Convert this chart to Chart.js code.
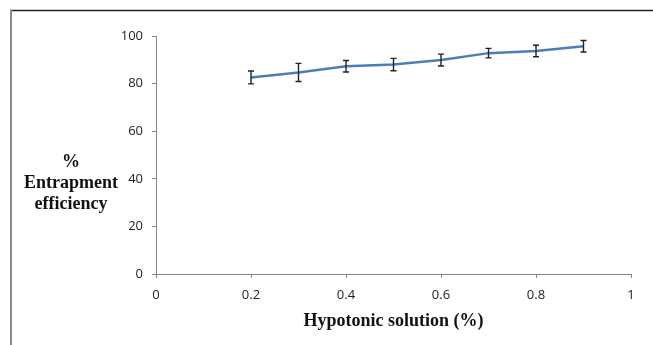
<!DOCTYPE html>
<html>
<head>
<meta charset="utf-8">
<script src="https://cdn.jsdelivr.net/npm/chart.js@4.4.0/dist/chart.umd.min.js"></script>
<style>
  body { margin: 0; background: #fff; }
  #wrap { position: relative; width: 653px; height: 345px; }
</style>
</head>
<body>
<div id="wrap"><canvas id="chart" width="653" height="345"></canvas></div>
<script>
// hypotonic solution concentration (%) vs entrapment efficiency (%)
const hypotonic = [0.2, 0.3, 0.4, 0.5, 0.6, 0.7, 0.8, 0.9];
const efficiency = [82.6, 84.7, 87.3, 88.0, 89.9, 92.8, 93.7, 95.7];
const errors = [2.7, 3.8, 2.4, 2.6, 2.5, 2.0, 2.4, 2.4];
const xTicks = [0, 0.2, 0.4, 0.6, 0.8, 1];
const yTicks = [0, 20, 40, 60, 80, 100];

const axisGray = '#868686';
const tickFont = { family: 'Open Sans', size: 13 };
const titleFont = { family: 'Liberation Serif', size: 18, weight: 'bold' };

// vertical error bars with short caps
const errorBars = {
  id: 'errorBars',
  afterDatasetsDraw(chart) {
    const { ctx, scales: { x, y } } = chart;
    ctx.save();
    ctx.strokeStyle = '#222';
    ctx.lineWidth = 1.4;
    hypotonic.forEach((v, i) => {
      const px = x.getPixelForValue(v);
      const top = y.getPixelForValue(efficiency[i] + errors[i]);
      const bot = y.getPixelForValue(efficiency[i] - errors[i]);
      ctx.beginPath();
      ctx.moveTo(px, top); ctx.lineTo(px, bot);
      ctx.moveTo(px - 3, top); ctx.lineTo(px + 3, top);
      ctx.moveTo(px - 3, bot); ctx.lineTo(px + 3, bot);
      ctx.stroke();
    });
    ctx.restore();
  }
};

// outer frame and the stacked horizontal y-axis title
const decor = {
  id: 'decor',
  beforeDraw(chart) {
    const ctx = chart.ctx;
    ctx.save();
    ctx.fillStyle = '#fff';
    ctx.fillRect(0, 0, chart.width, chart.height);
    ctx.strokeStyle = '#222';
    ctx.lineWidth = 1.5;
    ctx.beginPath();
    ctx.moveTo(10, 10.5); ctx.lineTo(chart.width, 10.5);
    ctx.stroke();
    ctx.strokeStyle = '#8a8a8a';
    ctx.lineWidth = 2;
    ctx.beginPath();
    ctx.moveTo(11, 10); ctx.lineTo(11, chart.height);
    ctx.stroke();
    ctx.restore();
  },
  afterDraw(chart) {
    const ctx = chart.ctx;
    ctx.save();
    ctx.fillStyle = '#111';
    ctx.font = 'bold 18px "Liberation Serif"';
    ctx.textAlign = 'center';
    ctx.textBaseline = 'middle';
    ['%', 'Entrapment', 'efficiency'].forEach((t, i) => {
      ctx.fillText(t, 71, 162 + i * 21);
    });
    ctx.restore();
  }
};

new Chart(document.getElementById('chart'), {
  type: 'line',
  data: {
    datasets: [{
      data: hypotonic.map((v, i) => ({ x: v, y: efficiency[i] })),
      borderColor: '#4a7ebb',
      borderWidth: 2.5,
      pointRadius: 0,
      tension: 0,
      fill: false,
    }],
  },
  options: {
    responsive: false,
    animation: false,
    layout: { padding: { left: 0, right: 22, top: 36, bottom: 0 } },
    plugins: { legend: { display: false }, tooltip: { enabled: false } },
    scales: {
      x: {
        type: 'linear',
        min: 0,
        max: 1,
        afterBuildTicks: (s) => { s.ticks = xTicks.map(v => ({ value: v })); },
        afterFit: (s) => { s.height = 71; },
        ticks: {
          font: tickFont,
          color: '#222',
          padding: 9,
          maxRotation: 0,
          callback: (v) => String(Number(v.toFixed(1))),
        },
        grid: { drawOnChartArea: false, tickLength: 4, tickColor: axisGray },
        border: { color: axisGray, width: 1 },
        title: {
          display: true,
          text: 'Hypotonic solution (%)',
          font: titleFont,
          color: '#111',
          padding: { top: 4, bottom: 13 },
        },
      },
      y: {
        min: 0,
        max: 100,
        afterBuildTicks: (s) => { s.ticks = yTicks.map(v => ({ value: v })); },
        afterFit: (s) => { s.width = 156; },
        ticks: { font: tickFont, color: '#222', padding: 9 },
        grid: { drawOnChartArea: false, tickLength: 4, tickColor: axisGray },
        border: { color: axisGray, width: 1 },
      },
    },
  },
  plugins: [errorBars, decor],
});
</script>
</body>
</html>
